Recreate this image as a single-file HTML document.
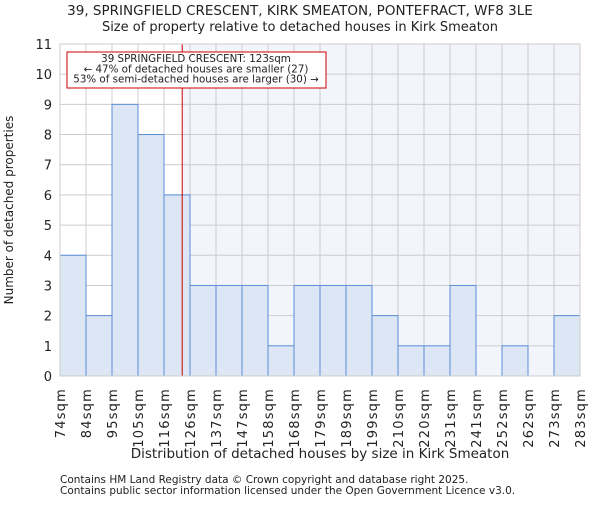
<!DOCTYPE html>
<html><head><meta charset="utf-8"><style>
body{margin:0;background:#fff;}
svg text{font-family:"DejaVu Sans","Liberation Sans",sans-serif;fill:#222;}
</style></head><body>
<svg id="chart" width="600" height="500" xmlns="http://www.w3.org/2000/svg">
<text x="300" y="15" text-anchor="middle" font-size="13.5">39, SPRINGFIELD CRESCENT, KIRK SMEATON, PONTEFRACT, WF8 3LE</text>
<text x="300" y="31" text-anchor="middle" font-size="13">Size of property relative to detached houses in Kirk Smeaton</text>
<g id="plot"></g>
<text x="320" y="458" text-anchor="middle" font-size="13.5">Distribution of detached houses by size in Kirk Smeaton</text>
<text transform="translate(13,210) rotate(-90)" text-anchor="middle" font-size="12">Number of detached properties</text>
<text x="60" y="483" font-size="10.5" fill="#444">Contains HM Land Registry data © Crown copyright and database right 2025.</text>
<text x="60" y="494" font-size="10.5" fill="#444">Contains public sector information licensed under the Open Government Licence v3.0.</text>
</svg>
<script>
const binEdges=[74,84,95,105,116,126,137,147,158,168,179,189,199,210,220,231,241,252,262,273,283];
const counts=[4,2,9,8,6,3,3,3,1,3,3,3,2,1,1,3,0,1,0,2];
const yTicks=[0,1,2,3,4,5,6,7,8,9,10,11];
const subjectSize=123;
const NS="http://www.w3.org/2000/svg";
const L=60,R=580,T=44,B=376,yMax=11;
const n=counts.length,bw=(R-L)/n;
function xIdx(i){return L+i*bw;}
function xVal(v){let i=0;while(i<binEdges.length-2&&v>binEdges[i+1])i++;return xIdx(i)+(v-binEdges[i])/(binEdges[i+1]-binEdges[i])*bw;}
function y(v){return B-v/yMax*(B-T);}
const g=document.getElementById('plot');
function mk(tag,a){const e=document.createElementNS(NS,tag);for(const k in a)e.setAttribute(k,a[k]);g.appendChild(e);return e;}
const xs=xVal(subjectSize);
let e=mk('rect',{x:xs,y:T,width:R-xs,height:B-T,fill:'#f3f5fd'});


yTicks.forEach(t=>{
 let l=mk('line',{x1:L,x2:R,y1:y(t),y2:y(t),stroke:'#cccccc','stroke-width':1});
 
 
 let tx=mk('text',{x:L-8,y:y(t)+5,'text-anchor':'end','font-size':13});
 tx.textContent=t;
 
 
});
binEdges.forEach((b,i)=>{
 let l=mk('line',{x1:xIdx(i),x2:xIdx(i),y1:T,y2:B,stroke:'#cccccc','stroke-width':1});
 
 
 let tx=mk('text',{transform:`translate(${xIdx(i)+5},${B+12}) rotate(-90)`,'text-anchor':'end','font-size':13,'letter-spacing':'1.2'});
 tx.textContent=b+'sqm';
 
 
});
counts.forEach((c,i)=>{
 if(c<=0)return;
 let r=mk('rect',{x:xIdx(i),y:y(c),width:bw,height:B-y(c),fill:'#dce6f4',stroke:'#5b8fd6','stroke-width':1});
 
 
});
e=mk('line',{x1:xs,x2:xs,y1:T,y2:B,stroke:'#cc0000','stroke-width':1});


e=mk('rect',{x:67,y:52,width:259,height:36,fill:'#fff',stroke:'#cc0000','stroke-width':1});


['39 SPRINGFIELD CRESCENT: '+subjectSize+'sqm','← 47% of detached houses are smaller (27)','53% of semi-detached houses are larger (30) →'].forEach((s,i)=>{
 let t=mk('text',{x:196,y:62+i*10.3,'text-anchor':'middle','font-size':10.3});
 t.textContent=s;
 
 
});
e=mk('rect',{x:L,y:T,width:R-L,height:B-T,fill:'none',stroke:'#cccccc'});


</script>
</body></html>
